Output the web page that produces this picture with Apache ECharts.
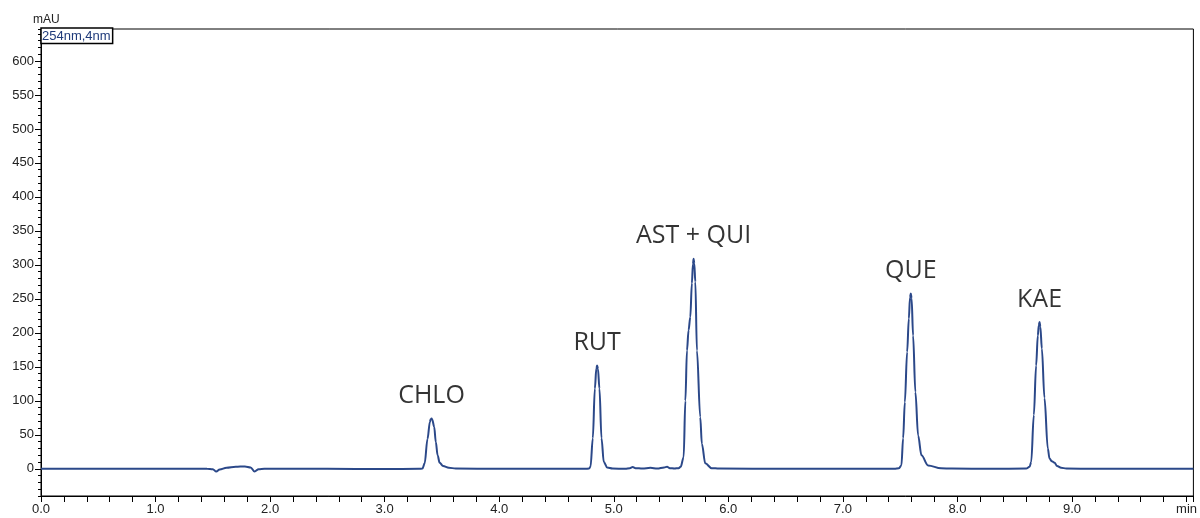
<!DOCTYPE html>
<html>
<head>
<meta charset="utf-8">
<title>Chromatogram 254nm</title>
<script src="https://cdn.jsdelivr.net/npm/echarts@6/dist/echarts.min.js"></script>
<style>
  html, body { margin: 0; padding: 0; background: #fff; }
  #chart { width: 1200px; height: 518px; }
</style>
</head>
<body>
<div id="chart"></div>
<script>
// trace, [time (min), signal (mAU)]
var baselineStart = [[0, 0], [0.5, 0], [1.0, 0.2], [1.45, 0], [1.5, -0.5], [1.53, -4], [1.56, -1],
  [1.62, 1.5], [1.7, 3], [1.78, 3.5], [1.83, 2], [1.865, -4], [1.9, -0.5], [1.95, 0], [2.5, 0], [3.0, -0.3], [3.3, 0]]
var chloPeak = [[3.33, 0.5], [3.349, 8], [3.374, 44], [3.395, 69], [3.402, 73], [3.409, 74], [3.416, 72],
  [3.432, 62], [3.447, 39], [3.462, 20], [3.48, 9], [3.51, 4], [3.56, 1.5], [3.62, 0.5], [4.0, 0], [4.5, 0], [4.75, 0]]
var rutPeak = [[4.785, 0.5], [4.797, 3], [4.817, 45], [4.835, 118], [4.848, 148], [4.855, 152], [4.862, 147],
  [4.875, 118], [4.893, 45], [4.913, 10], [4.942, 2], [4.99, 0.5], [5.1, 0], [5.14, 1], [5.165, 2.5], [5.19, 1],
  [5.25, 0.3], [5.32, 1.5], [5.38, 0.3], [5.44, 2], [5.465, 3], [5.49, 1], [5.53, 0.5]]
var astQuiPeak = [[5.566, 1], [5.584, 3], [5.61, 17], [5.625, 100], [5.639, 174], [5.653, 204], [5.668, 223],
  [5.682, 273], [5.691, 301], [5.697, 309], [5.703, 302], [5.712, 275], [5.726, 174], [5.755, 76], [5.769, 37],
  [5.799, 8], [5.854, 1], [5.92, 0.3], [6.5, 0], [7.0, 0], [7.45, 0]]
var quePeak = [[7.49, 1], [7.511, 5], [7.526, 45], [7.541, 98], [7.561, 172], [7.576, 221], [7.586, 252],
  [7.593, 258], [7.6, 251], [7.613, 196], [7.633, 113], [7.657, 49], [7.686, 20], [7.744, 5], [7.857, 0.7],
  [7.95, 0.3], [8.3, 0], [8.6, 0.3]]
var kaePeak = [[8.63, 3], [8.644, 10], [8.667, 79], [8.687, 152], [8.702, 196], [8.71, 211], [8.717, 216],
  [8.724, 209], [8.737, 177], [8.76, 104], [8.789, 30], [8.804, 15], [8.825, 11], [8.848, 9], [8.87, 4],
  [8.905, 1.5], [8.95, 0.5]]
var baselineEnd = [[9.2, 0], [9.5, 0], [10.06, 0]]

var peakNames = ['CHLO', 'RUT', 'AST + QUI', 'QUE', 'KAE']
var peakTimes = [3.409, 4.855, 5.697, 7.593, 8.717]
var peakHeights = [74, 152, 309, 258, 216]

var xLabelValues = [0, 1, 2, 3, 4, 5, 6, 7, 8, 9, 10]
var yLabelValues = [0, 50, 100, 150, 200, 250, 300, 350, 400, 450, 500, 550, 600]

var trace = [].concat(baselineStart, chloPeak, rutPeak, astQuiPeak, quePeak, kaePeak, baselineEnd)
var peakLabels = peakNames.map(function (name, i) {
  return { name: name, value: [peakTimes[i], peakHeights[i]] }
})

var chart = echarts.init(document.getElementById('chart'))
var axisText = { fontFamily: 'Liberation Sans', fontSize: 13, color: '#222' }

var option = {
  animation: false,
  grid: {
    left: 41,
    right: 4,
    top: 29,
    bottom: 22,
    show: true,
    borderColor: '#000',
    borderWidth: 1
  },
  legend: {
    data: ['254nm,4nm'],
    left: 41,
    top: 28,
    icon: 'none',
    itemWidth: 0,
    itemGap: 0,
    padding: [1, 2, 1, -4],
    borderColor: '#000',
    borderWidth: 1.5,
    backgroundColor: '#fff',
    textStyle: { fontFamily: 'Liberation Sans', fontSize: 13, color: '#1f3a7a', lineHeight: 12 }
  },
  xAxis: {
    type: 'value',
    min: 0,
    max: 10.06,
    interval: 0.2,
    splitLine: { show: false },
    axisLine: { onZero: false, lineStyle: { color: '#000', width: 1 } },
    axisTick: { length: 6, lineStyle: { color: '#000' } },
    axisLabel: Object.assign({
      customValues: xLabelValues,
      margin: 7,
      formatter: function (v) { return v === 10 ? 'min' : v.toFixed(1) }
    }, axisText)
  },
  yAxis: [
    {
      type: 'value',
      min: -40,
      max: 647,
      interval: 10,
      position: 'left',
      splitLine: { show: false },
      axisLine: { show: true, onZero: false, lineStyle: { color: '#000', width: 1 } },
      axisTick: { length: 3, lineStyle: { color: '#000' } },
      axisLabel: { show: false }
    },
    {
      type: 'value',
      min: -40,
      max: 647,
      position: 'left',
      name: 'mAU',
      nameLocation: 'end',
      nameGap: 3,
      nameTextStyle: { fontFamily: 'Liberation Sans', fontSize: 12, color: '#222', align: 'left', padding: [0, 0, 0, -8] },
      splitLine: { show: false },
      axisLine: { show: false, onZero: false },
      axisTick: { show: true, customValues: yLabelValues, length: 6, lineStyle: { color: '#000' } },
      axisLabel: Object.assign({ customValues: yLabelValues, margin: 7 }, axisText)
    }
  ],
  series: [
    {
      name: '254nm,4nm',
      type: 'line',
      yAxisIndex: 0,
      data: trace,
      showSymbol: false,
      smooth: 0.35,
      smoothMonotone: 'x',
      lineStyle: { color: '#2b4889', width: 2 },
      itemStyle: { color: '#2b4889' }
    },
    {
      name: 'peaks',
      type: 'scatter',
      yAxisIndex: 0,
      data: peakLabels,
      symbolSize: 0,
      silent: true,
      label: {
        show: true,
        position: 'top',
        distance: 10,
        formatter: '{b}',
        fontFamily: 'Open Sans',
        fontSize: 25,
        color: '#000'
      }
    }
  ]
}

chart.setOption(option)
</script>
</body>
</html>
